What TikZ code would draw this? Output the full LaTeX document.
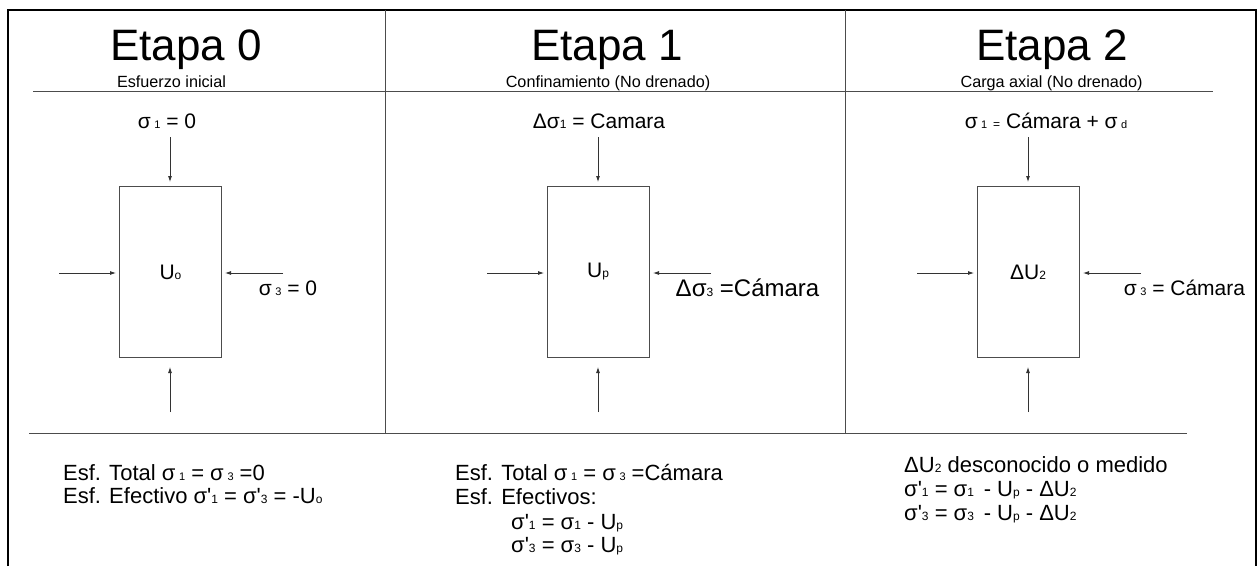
\documentclass[tikz,border=0pt]{standalone}
\usepackage{fontspec}
\setmainfont{Liberation Sans}
\usetikzlibrary{arrows.meta}
\newcommand{\fs}[1]{\fontsize{#1}{#1}\selectfont}
\newcommand{\sg}{σ}
\newcommand{\sgp}{σ\textquotesingle}
\newcommand{\lo}[1]{\,{\fontsize{11}{11}\selectfont #1}}
\newcommand{\los}[1]{{\fontsize{12}{12}\selectfont #1}}
\tikzset{
  x=1pt,y=-1pt,
  frame/.style={draw=black,line width=2pt},
  rule/.style={draw=black!70,line width=1pt},
  specimen/.style={draw=black!70,line width=1pt,minimum width=102pt,minimum height=171pt,inner sep=0,font=\fs{21}},
  load/.style={draw=black!80,line width=0.8pt,-{Latex[length=6pt,width=4pt]}},
  title/.style={inner sep=0,font=\fs{44},anchor=base},
  sub/.style={inner sep=0,font=\fs{16.2},anchor=base},
  lab/.style={inner sep=0,font=\fs{21},anchor=base},
  note/.style={inner sep=0,font=\fs{22},anchor=base west},
}
\begin{document}
\begin{tikzpicture}
\useasboundingbox (0,0) rectangle (1258,566);
\fill[white] (0,0) rectangle (1258,566);
\coordinate (fa) at (8,566); \coordinate (fb) at (8,10); \coordinate (fc) at (1256,10); \coordinate (fd) at (1256,566);
\draw[frame] (fa) -- (fb) -- (fc) -- (fd);
\coordinate (v1t) at (385,10); \coordinate (v1b) at (385,433);
\coordinate (v2t) at (845,10); \coordinate (v2b) at (845,433);
\draw[rule] (v1t) -- (v1b);
\draw[rule] (v2t) -- (v2b);
\coordinate (h1a) at (33,91); \coordinate (h1b) at (1213,91);
\coordinate (h2a) at (29,433); \coordinate (h2b) at (1187,433);
\draw[rule] (h1a) -- (h1b);
\draw[rule] (h2a) -- (h2b);
\node[title] (t0) at (186,60) {Etapa 0};
\node[title] (t1) at (607,60) {Etapa 1};
\node[title] (t2) at (1052,60) {Etapa 2};
\node[sub] (s0) at (171.5,87) {Esfuerzo inicial};
\node[sub] (s1) at (608,87) {Confinamiento (No drenado)};
\node[sub] (s2) at (1051.5,87) {Carga axial (No drenado)};
\node[specimen] (b0) at (170.5,272) {U\los{o}};
\node[specimen] (b1) at (598,272) {U\los{p}};
\node[specimen] (b2) at (1028,272) {ΔU\los{2}};
\node[lab] (l0) at (167,128) {\sg\lo{1} = 0};
\node[lab] (l1) at (599,128) {Δ\sg\los{1} = Camara};
\node[lab] (l2) at (1046,128) {\sg\lo{1} \los{=} Cámara + \sg\lo{d}};
\node[lab] (r0) at (288,295) {\sg\lo{3} = 0};
\node[lab,font=\fs{24}] (r1) at (747.5,296) {Δ\sg\los{3} =Cámara};
\node[lab] (r2) at (1184.5,295) {\sg\lo{3} = Cámara};
\foreach \n/\c in {0/170,1/598,2/1028}{
  \coordinate (ta\n) at (\c,137);
  \coordinate (tb\n) at (\c,182);
  \coordinate (ba\n) at (\c,412);
  \coordinate (bb\n) at (\c,367);
  \coordinate (la\n) at (\c-111,273);
  \coordinate (lb\n) at (\c-54,273);
  \coordinate (ra\n) at (\c+113,273);
  \coordinate (rb\n) at (\c+55,273);
  \draw[load] (ta\n) -- (tb\n);
  \draw[load] (ba\n) -- (bb\n);
  \draw[load] (la\n) -- (lb\n);
  \draw[load] (ra\n) -- (rb\n);
}
\node[note] (n01) at (63,480) {Esf. Total \sg\lo{1} = \sg\lo{3} =0};
\node[note] (n02) at (63,503) {Esf. Efectivo \sgp\los{1} = \sgp\los{3} = -U\los{o}};
\node[note] (n11) at (455,480) {Esf. Total \sg\lo{1} = \sg\lo{3} =Cámara};
\node[note] (n12) at (455,504) {Esf. Efectivos:};
\node[note] (n13) at (511,529) {\sgp\los{1} = \sg\los{1} - U\los{p}};
\node[note] (n14) at (511,552) {\sgp\los{3} = \sg\los{3} - U\los{p}};
\node[note] (n21) at (904,472) {ΔU\los{2} desconocido o medido};
\node[note] (n22) at (904,496) {\sgp\los{1} = \sg\los{1}\, - U\los{p} - ΔU\los{2}};
\node[note] (n23) at (904,520) {\sgp\los{3} = \sg\los{3}\, - U\los{p} - ΔU\los{2}};
\end{tikzpicture}
\end{document}
